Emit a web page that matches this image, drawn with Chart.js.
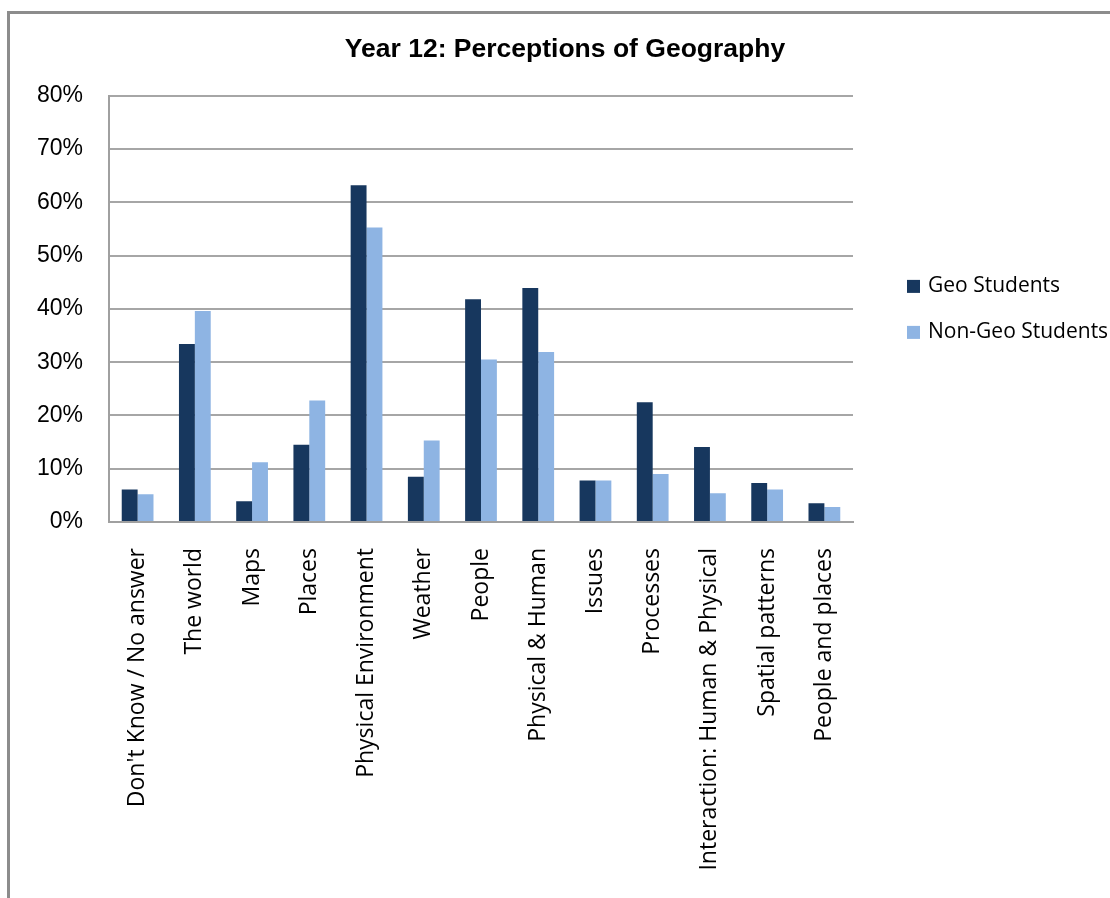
<!DOCTYPE html>
<html lang="en">
<head>
<meta charset="utf-8">
<title>Year 12: Perceptions of Geography</title>
<script src="https://cdn.jsdelivr.net/npm/chart.js@4.4.1/dist/chart.umd.min.js"></script>
<style>
  html, body { margin: 0; padding: 0; background: #fff; overflow: hidden; }
  .frame {
    position: absolute; left: 7px; top: 11px; width: 2000px; height: 2000px;
    border-left: 3px solid #8c8c8c; border-top: 3px solid #8c8c8c;
  }
  #chart { position: absolute; left: 0; top: 0; }
</style>
</head>
<body>
<div class="frame"></div>
<canvas id="chart" width="1130" height="898"></canvas>
<script>
// カテゴリ
const categories = [
  "Don't Know / No answer",
  'The world',
  'Maps',
  'Places',
  'Physical Environment',
  'Weather',
  'People',
  'Physical & Human',
  'Issues',
  'Processes',
  'Interaction: Human & Physical',
  'Spatial patterns',
  'People and places'
];

// 系列 (%)
const geoStudents = [6.1, 33.4, 3.9, 14.5, 63.2, 8.5, 41.8, 43.9, 7.8, 22.5, 14.1, 7.3, 3.5];
const nonGeoStudents = [5.2, 39.6, 11.2, 22.8, 55.3, 15.3, 30.5, 31.9, 7.8, 9.0, 5.4, 6.1, 2.8];

// Y軸目盛
const yTicks = [0, 10, 20, 30, 40, 50, 60, 70, 80];

const seriesNames = ['Geo Students', 'Non-Geo Students'];
const seriesColors = ['#17375e', '#8eb4e3'];

// 右側の凡例を描く
const sideLegend = {
  id: 'sideLegend',
  afterDraw(chart) {
    const { ctx, chartArea } = chart;
    const midY = (chartArea.top + chartArea.bottom) / 2;
    const x = chartArea.right + 54;
    ctx.save();
    ctx.font = '21px "Open Sans", sans-serif';
    ctx.textBaseline = 'middle';
    ctx.textAlign = 'left';
    chart.data.datasets.forEach((ds, i) => {
      const y = midY - 23 + i * 46;
      ctx.fillStyle = ds.backgroundColor;
      ctx.fillRect(x, y - 6, 13, 13);
      ctx.fillStyle = '#000';
      ctx.fillText(ds.label, x + 21, y);
    });
    ctx.restore();
  }
};

const ctx = document.getElementById('chart').getContext('2d');
new Chart(ctx, {
  type: 'bar',
  data: {
    labels: categories,
    datasets: [
      {
        label: seriesNames[0],
        data: geoStudents,
        backgroundColor: seriesColors[0],
        categoryPercentage: 0.555,
        barPercentage: 1.0
      },
      {
        label: seriesNames[1],
        data: nonGeoStudents,
        backgroundColor: seriesColors[1],
        categoryPercentage: 0.555,
        barPercentage: 1.0
      }
    ]
  },
  plugins: [sideLegend],
  options: {
    responsive: false,
    animation: false,
    layout: { padding: 0 },
    plugins: {
      legend: { display: false },
      tooltip: { enabled: false },
      title: {
        display: true,
        text: 'Year 12: Perceptions of Geography',
        color: '#000',
        font: { family: '"Liberation Sans", Arial, sans-serif', size: 26.5, weight: 'bold', lineHeight: 1.2 },
        padding: { top: 34, bottom: 30 }
      }
    },
    scales: {
      x: {
        grid: { display: false, drawTicks: false },
        border: { display: true, color: '#a0a0a0', width: 2 },
        ticks: {
          autoSkip: false,
          maxRotation: 90,
          minRotation: 90,
          padding: 26,
          color: '#000',
          font: { family: '"Open Sans", sans-serif', size: 23 }
        },
        afterFit(scale) { scale.height = 898 - 522; }
      },
      y: {
        min: 0,
        max: 80,
        afterBuildTicks(scale) { scale.ticks = yTicks.map(v => ({ value: v })); },
        grid: { color: '#a6a6a6', lineWidth: 2, drawTicks: false },
        border: { display: true, color: '#a0a0a0', width: 2 },
        ticks: {
          padding: 26,
          color: '#000',
          font: { family: '"Liberation Sans", Arial, sans-serif', size: 23 },
          callback: v => v + '%'
        },
        afterFit(scale) { scale.width = 109; }
      },
      // 凡例用の余白（右側）
      legendSpace: {
        type: 'linear',
        position: 'right',
        grid: { display: false, drawTicks: false },
        border: { display: false },
        ticks: { display: false },
        afterFit(scale) { scale.width = 1130 - 853; }
      }
    }
  }
});
</script>
</body>
</html>
